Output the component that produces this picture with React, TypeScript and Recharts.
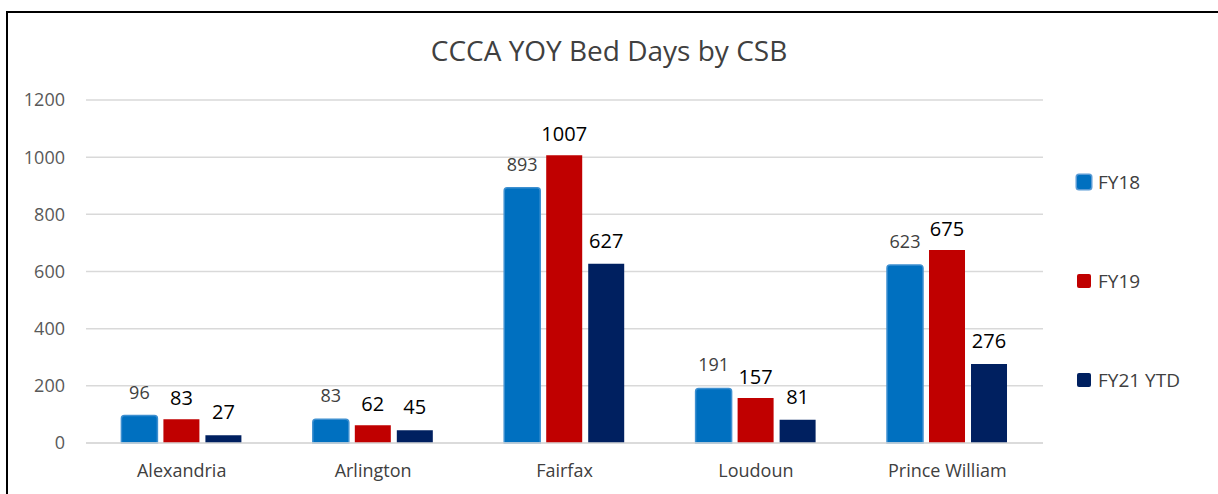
import { BarChart, Bar, XAxis, YAxis, CartesianGrid, LabelList } from 'recharts';

const csbs = ['Alexandria', 'Arlington', 'Fairfax', 'Loudoun', 'Prince William'];
const fy18 = [96, 83, 893, 191, 623];
const fy19 = [83, 62, 1007, 157, 675];
const fy21 = [27, 45, 627, 81, 276];
const yTicks = [0, 200, 400, 600, 800, 1000, 1200];

const series = [
  { key: 'fy18', name: 'FY18', color: '#0070C0' },
  { key: 'fy19', name: 'FY19', color: '#C00000' },
  { key: 'fy21', name: 'FY21 YTD', color: '#002060' },
];

const data = csbs.map((name, i) => ({ name, fy18: fy18[i], fy19: fy19[i], fy21: fy21[i] }));

const FONT = '"Open Sans", sans-serif';

// legend sits outside the chart so it doesn't eat into the plot area
function SideLegend() {
  return (
    <div style={{ position: 'absolute', left: 1077, top: 168, fontFamily: FONT }}>
      {series.map((s, i) => (
        <div
          key={s.key}
          style={{ display: 'flex', alignItems: 'center', height: 28, marginBottom: i < 2 ? 71 : 0 }}
        >
          <span
            style={{
              width: 14, height: 14, background: s.color, borderRadius: 2, marginRight: 7,
              boxShadow: i === 0 ? '0 0 0 1.5px #5b9bd5' : 'none',
            }}
          />
          <span style={{ fontSize: 19, color: '#404040' }}>{s.name}</span>
        </div>
      ))}
    </div>
  );
}

export default function App() {
  return (
    <div style={{ position: 'absolute', left: 0, top: 0, width: 1218, height: 494, background: '#fff', overflow: 'hidden' }}>
      <div
        style={{
          position: 'absolute', left: 6, top: 11, width: 1230, height: 500,
          borderLeft: '2px solid #000', borderTop: '2px solid #000',
        }}
      />
      <div
        style={{
          position: 'absolute', left: 0, width: 1218, top: 31, textAlign: 'center',
          fontFamily: FONT, fontSize: 28, color: '#404040',
        }}
      >
        CCCA YOY Bed Days by CSB
      </div>
      <div style={{ position: 'absolute', left: 0, top: 0 }}>
        <BarChart
          width={1218}
          height={494}
          data={data}
          margin={{ top: 100, right: 175, left: 0, bottom: 0 }}
          barGap={6}
          barCategoryGap="18.5%"
        >
          <CartesianGrid vertical={false} stroke="#d9d9d9" strokeWidth={1.5} />
          <XAxis
            dataKey="name"
            axisLine={{ stroke: '#d9d9d9', strokeWidth: 1.5 }}
            tickLine={false}
            tickMargin={15}
            tick={{ fill: '#404040', fontSize: 18, fontFamily: FONT }}
            height={51}
          />
          <YAxis
            width={86}
            domain={[0, 1200]}
            ticks={yTicks}
            axisLine={false}
            tickLine={false}
            tickMargin={15}
            tick={{ fill: '#595959', fontSize: 18, fontFamily: FONT }}
          />
          <Bar dataKey="fy18" name="FY18" fill="#0070C0" stroke="#3d8fd0" strokeWidth={1.5} radius={[3, 3, 0, 0]} isAnimationActive={false}>
            <LabelList dataKey="fy18" position="top" offset={17} fill="#404040" fontSize={18} fontFamily={FONT} />
          </Bar>
          <Bar dataKey="fy19" name="FY19" fill="#C00000" isAnimationActive={false}>
            <LabelList dataKey="fy19" position="top" offset={14} fill="#000" fontSize={20} fontFamily={FONT} />
          </Bar>
          <Bar dataKey="fy21" name="FY21 YTD" fill="#002060" isAnimationActive={false}>
            <LabelList dataKey="fy21" position="top" offset={16} fill="#000" fontSize={20} fontFamily={FONT} />
          </Bar>
        </BarChart>
      </div>
      <SideLegend />
    </div>
  );
}
